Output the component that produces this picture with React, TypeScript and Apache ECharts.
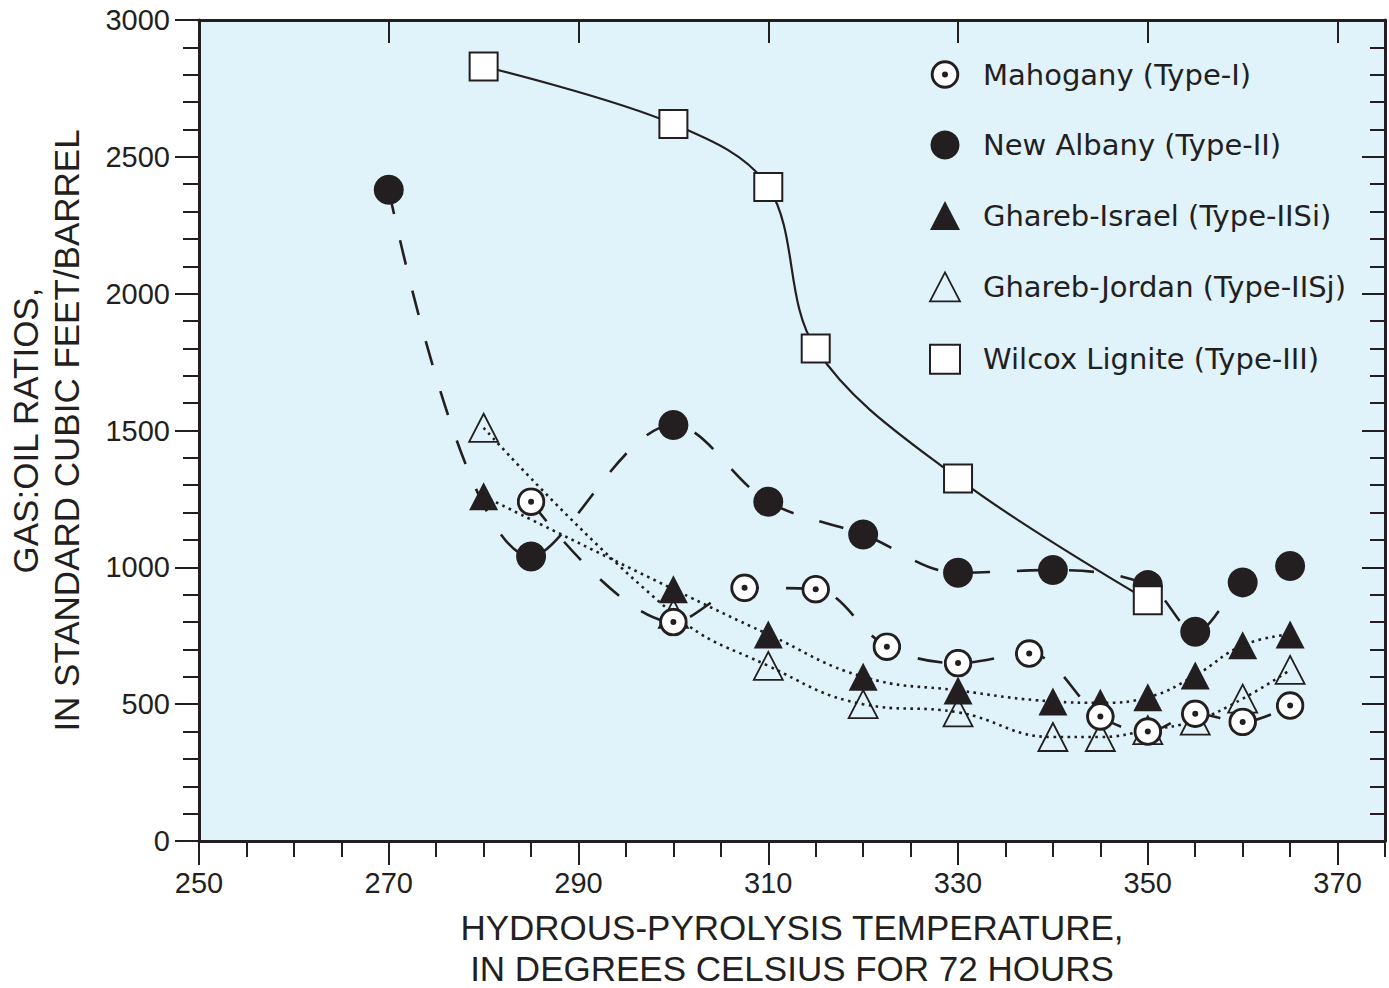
import React, { useEffect, useRef } from 'react';
import * as echarts from 'echarts';

const INK = '#231f20';
const PLOT_BG = '#e0f2fa';

// ---- tick values ----
const xMajorTicks = [250, 270, 290, 310, 330, 350, 370];

// ---- series data (temperature °C, gas:oil ratio scf/bbl) ----
const mahoganyTemp = [285, 300, 307.5, 315, 322.5, 330, 337.5, 345, 350, 355, 360, 365];
const mahoganyGOR = [1240, 800, 925, 920, 710, 650, 685, 455, 400, 465, 435, 495];

const newAlbanyTemp = [270, 285, 300, 310, 320, 330, 340, 350, 355, 360, 365];
const newAlbanyGOR = [2380, 1040, 1520, 1240, 1120, 980, 990, 935, 765, 945, 1005];

const israelTemp = [280, 300, 310, 320, 330, 340, 345, 350, 355, 360, 365];
const israelGOR = [1260, 920, 755, 600, 550, 510, 505, 525, 605, 715, 755];

const jordanTemp = [280, 300, 310, 320, 330, 340, 345, 350, 355, 360, 365];
const jordanGOR = [1510, 830, 640, 500, 470, 380, 380, 405, 440, 520, 625];

const wilcoxTemp = [280, 300, 310, 315, 330, 350];
const wilcoxGOR = [2830, 2620, 2390, 1800, 1325, 880];

const names = {
  mahogany: 'Mahogany (Type-I)',
  newAlbany: 'New Albany (Type-II)',
  israel: 'Ghareb-Israel (Type-IISi)',
  jordan: 'Ghareb-Jordan (Type-IISj)',
  wilcox: 'Wilcox Lignite (Type-III)',
};

const zip = (xs: number[], ys: number[]) => xs.map((x, i) => [x, ys[i]]);

const MAHOGANY_SVG =
  '<svg xmlns="http://www.w3.org/2000/svg" width="60" height="60" viewBox="0 0 60 60">' +
  '<circle cx="30" cy="30" r="26.5" fill="#ffffff" stroke="#231f20" stroke-width="6"/>' +
  '<circle cx="30" cy="30" r="6.2" fill="#231f20"/></svg>';
const mahoganySymbol = 'image://data:image/svg+xml;charset=utf-8,' + encodeURIComponent(MAHOGANY_SVG);

const dashed = [25, 27];
const dotted = [2.6, 4.4];

export default function App() {
  const ref = useRef<HTMLDivElement>(null);

  useEffect(() => {
    if (!ref.current) return;
    const chart = echarts.init(ref.current, null, { renderer: 'svg' });

    const labelFont = { fontFamily: 'Liberation Sans, Arial, sans-serif', fontSize: 29, color: INK };
    const nameFont = {
      fontFamily: 'Liberation Sans, Arial, sans-serif',
      fontSize: 35,
      lineHeight: 41,
      color: INK,
    };
    const frameLine = { show: true, onZero: false, lineStyle: { color: INK, width: 3 } };
    const tickLine = { color: INK, width: 2 };

    const option: any = {
      animation: false,
      backgroundColor: '#ffffff',
      grid: {
        left: 199,
        top: 20,
        width: 1186,
        height: 821,
        show: true,
        backgroundColor: PLOT_BG,
        borderWidth: 0,
        containLabel: false,
        outerBoundsMode: 'none',
      },
      legend: {
        orient: 'vertical',
        left: 924,
        top: 55,
        itemWidth: 30,
        itemHeight: 29,
        itemGap: 41.5,
        selectedMode: false,
        symbolKeepAspect: false,
        textStyle: {
          fontFamily: 'DejaVu Sans, sans-serif',
          fontSize: 29,
          color: INK,
          padding: [0, 0, 0, 18],
        },
        data: [
          { name: names.mahogany, icon: mahoganySymbol },
          { name: names.newAlbany, icon: 'circle', itemStyle: { color: INK, borderWidth: 0 } },
          { name: names.israel, icon: 'triangle', itemStyle: { color: INK, borderWidth: 0 } },
          {
            name: names.jordan,
            icon: 'triangle',
            itemStyle: { color: 'rgba(0,0,0,0)', borderColor: INK, borderWidth: 1.8 },
          },
          {
            name: names.wilcox,
            icon: 'rect',
            itemStyle: { color: '#ffffff', borderColor: INK, borderWidth: 2 },
          },
        ],
      },
      xAxis: [
        {
          type: 'value',
          position: 'bottom',
          min: 250,
          max: 375,
          axisLine: frameLine,
          axisTick: { show: true, inside: false, length: 24, lineStyle: tickLine, customValues: xMajorTicks },
          axisLabel: { ...labelFont, margin: 27, customValues: xMajorTicks, formatter: (v: number) => String(v) },
          splitLine: { show: false },
          name: 'HYDROUS-PYROLYSIS TEMPERATURE,\nIN DEGREES CELSIUS FOR 72 HOURS',
          nameLocation: 'middle',
          nameGap: 66,
          nameTextStyle: { ...nameFont, verticalAlign: 'top' },
        },
        {
          type: 'value',
          position: 'bottom',
          min: 250,
          max: 375,
          interval: 5,
          axisLine: { show: false },
          axisTick: { show: true, inside: false, length: 16, lineStyle: tickLine },
          axisLabel: { show: false },
          splitLine: { show: false },
        },
        {
          type: 'value',
          position: 'top',
          min: 250,
          max: 375,
          axisLine: frameLine,
          axisTick: { show: true, inside: true, length: 23, lineStyle: tickLine, customValues: xMajorTicks },
          axisLabel: { show: false },
          splitLine: { show: false },
        },
        {
          type: 'value',
          position: 'top',
          min: 250,
          max: 375,
          interval: 5,
          axisLine: { show: false },
          axisTick: { show: true, inside: true, length: 15, lineStyle: tickLine },
          axisLabel: { show: false },
          splitLine: { show: false },
        },
      ],
      yAxis: [
        {
          type: 'value',
          position: 'left',
          min: 0,
          max: 3000,
          interval: 500,
          axisLine: frameLine,
          axisTick: { show: true, inside: false, length: 24, lineStyle: tickLine },
          axisLabel: { ...labelFont, margin: 29, formatter: (v: number) => String(v) },
          splitLine: { show: false },
          name: 'GAS:OIL RATIOS,\nIN STANDARD CUBIC FEET/BARREL',
          nameLocation: 'middle',
          nameRotate: 90,
          nameGap: 112,
          nameTextStyle: nameFont,
        },
        {
          type: 'value',
          position: 'left',
          min: 0,
          max: 3000,
          interval: 100,
          axisLine: { show: false },
          axisTick: { show: true, inside: false, length: 16, lineStyle: tickLine },
          axisLabel: { show: false },
          splitLine: { show: false },
        },
        {
          type: 'value',
          position: 'right',
          min: 0,
          max: 3000,
          interval: 500,
          axisLine: frameLine,
          axisTick: { show: true, inside: true, length: 23, lineStyle: tickLine },
          axisLabel: { show: false },
          splitLine: { show: false },
        },
        {
          type: 'value',
          position: 'right',
          min: 0,
          max: 3000,
          interval: 100,
          axisLine: { show: false },
          axisTick: { show: true, inside: true, length: 15, lineStyle: tickLine },
          axisLabel: { show: false },
          splitLine: { show: false },
        },
      ],
      series: [
        {
          name: names.jordan,
          type: 'line',
          data: zip(jordanTemp, jordanGOR),
          smooth: 0.45,
          symbol: 'triangle',
          symbolSize: [29, 28],
          lineStyle: { color: INK, width: 2.6, type: dotted },
          itemStyle: { color: 'rgba(0,0,0,0)', borderColor: INK, borderWidth: 1.8 },
          z: 3,
        },
        {
          name: names.israel,
          type: 'line',
          data: zip(israelTemp, israelGOR),
          smooth: 0.45,
          symbol: 'triangle',
          symbolSize: [29, 28],
          lineStyle: { color: INK, width: 2.6, type: dotted },
          itemStyle: { color: INK, borderWidth: 0 },
          z: 4,
        },
        {
          name: names.mahogany,
          type: 'line',
          data: zip(mahoganyTemp, mahoganyGOR),
          smooth: 0.35,
          symbol: mahoganySymbol,
          symbolSize: 29,
          lineStyle: { color: INK, width: 2.6, type: dashed },
          itemStyle: { color: INK },
          z: 5,
        },
        {
          name: names.newAlbany,
          type: 'line',
          data: zip(newAlbanyTemp, newAlbanyGOR),
          smooth: 0.35,
          symbol: 'circle',
          symbolSize: 30,
          lineStyle: { color: INK, width: 2.6, type: dashed },
          itemStyle: { color: INK, borderWidth: 0 },
          z: 6,
        },
        {
          name: names.wilcox,
          type: 'line',
          data: zip(wilcoxTemp, wilcoxGOR),
          smooth: 0.35,
          symbol: 'rect',
          symbolSize: 28,
          lineStyle: { color: INK, width: 2.2, type: 'solid' },
          itemStyle: { color: '#ffffff', borderColor: INK, borderWidth: 2 },
          z: 7,
        },
      ],
    };

    chart.setOption(option);
    return () => {
      chart.dispose();
    };
  }, []);

  return (
    <div
      ref={ref}
      style={{ position: 'fixed', left: 0, top: 0, width: 1389, height: 988, background: '#ffffff' }}
    />
  );
}
